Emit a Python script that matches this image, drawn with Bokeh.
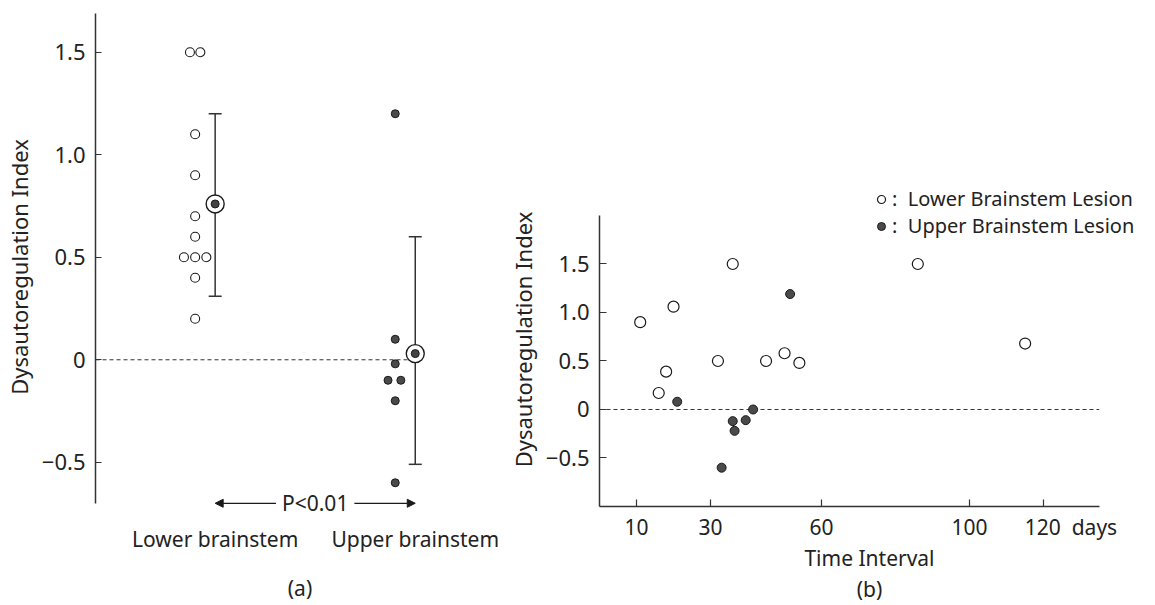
from bokeh.plotting import figure
from bokeh.layouts import row
from bokeh.models import (FixedTicker, LinearAxis, Label, Arrow, NormalHead, Legend,
                          LegendItem, Range1d, ColumnDataSource)
from bokeh.embed import file_html
from bokeh.resources import INLINE

FONT = "Noto Sans"
TXT = "#222222"
INK = "#1a1a1a"
NBSP = "\u00a0"

# ---------------- data : panel (a) ----------------
groups = ["Lower brainstem", "Upper brainstem"]
group_pos = [1, 2]
lower_dri = [1.5, 1.5, 1.1, 0.9, 0.7, 0.6, 0.5, 0.5, 0.5, 0.4, 0.2]
lower_jitter = [-0.026, 0.026, 0, 0, 0, 0, -0.056, 0, 0.056, 0, 0]
upper_dri = [1.2, 0.1, -0.02, -0.1, -0.1, -0.2, -0.6]
upper_jitter = [0, 0, 0, -0.036, 0.028, 0, 0]
group_mean = [0.76, 0.03]
group_err_lo = [0.31, -0.51]
group_err_hi = [1.2, 0.6]
p_text = "P<0.01"
y_ticks = [-0.5, 0, 0.5, 1.0, 1.5]
y_tick_labels = ["\u22120.5", "0", "0.5", "1.0", "1.5"]

# ---------------- data : panel (b) ----------------
lower_days = [11, 16, 18, 20, 32, 36, 45, 50, 54, 86, 115]
lower_dri_b = [0.9, 0.17, 0.39, 1.06, 0.5, 1.5, 0.5, 0.58, 0.48, 1.5, 0.68]
upper_days = [21, 33, 36, 36.5, 39.5, 41.5, 51.5]
upper_dri_b = [0.08, -0.6, -0.12, -0.22, -0.11, 0.0, 1.19]
x_ticks_b = [10, 30, 60, 100, 120]
x_tick_labels_b = ["10", "30", "60", "100", "120"]
x_unit = "days"
legend_labels = ["Lower Brainstem Lesion", "Upper Brainstem Lesion"]

COL_OFFSET = 0.1  # points column sits left of the mean / error bar
FIG_H = 605


def style_fig(p):
    p.outline_line_color = None
    p.background_fill_color = "white"
    p.border_fill_color = "white"
    p.grid.visible = False


def style_axis(ax, size="22px"):
    ax.axis_line_color = "#333333"
    ax.axis_line_width = 1.5
    ax.major_tick_line_color = "#333333"
    ax.major_tick_line_width = 1.2
    ax.minor_tick_line_color = None
    ax.major_label_text_font = FONT
    ax.major_label_text_font_size = size
    ax.major_label_text_color = TXT
    ax.axis_label_text_font = FONT
    ax.axis_label_text_font_size = "22px"
    ax.axis_label_text_font_style = "normal"
    ax.axis_label_text_color = TXT


def label_axis(text, bounds, standoff):
    ax = LinearAxis(ticker=FixedTicker(ticks=[]), bounds=bounds, axis_label=text,
                    axis_label_standoff=standoff)
    ax.axis_line_color = None
    ax.major_tick_line_color = None
    ax.minor_tick_line_color = None
    ax.major_tick_in = 0
    ax.major_tick_out = 0
    ax.major_label_standoff = 0
    ax.major_label_text_font_size = "1px"
    ax.axis_label_text_font = FONT
    ax.axis_label_text_font_size = "21px"
    ax.axis_label_text_font_style = "normal"
    ax.axis_label_text_color = TXT
    return ax


# ================= panel (a) =================
pa = figure(width=504, height=FIG_H, x_range=Range1d(0.402, 2.446), y_range=Range1d(-0.784, 1.689),
            output_backend="svg", toolbar_location=None, frame_align=False,
            min_border_left=87, min_border_right=0, min_border_top=13, min_border_bottom=FIG_H - 520)
style_fig(pa)

ya = pa.yaxis[0]
style_axis(ya)
ya.ticker = FixedTicker(ticks=y_ticks)
ya.major_label_overrides = dict(zip(y_ticks, y_tick_labels))
ya.bounds = (-0.70, 1.69)
ya.major_tick_in = 6
ya.major_tick_out = 0
ya.major_label_standoff = 10
ya.axis_label = "Dysautoregulation Index"
ya.axis_label_standoff = 5

xa = pa.xaxis[0]
style_axis(xa, "21px")
xa.ticker = FixedTicker(ticks=group_pos)
xa.major_label_overrides = dict(zip(group_pos, groups))
xa.axis_line_color = None
xa.major_tick_line_color = None
xa.major_tick_in = 0
xa.major_tick_out = 0
xa.major_label_standoff = 4
xa.bounds = (0.5, 2.5)
xa.axis_label = "(a)"
xa.axis_label_text_font_size = "21px"
xa.axis_label_standoff = 18

# zero reference line
pa.segment(x0=pa.x_range.start, y0=0, x1=group_pos[1], y1=0,
           line_dash="4 3", line_color="#333333", line_width=1)

# error bars
src_m = ColumnDataSource(dict(x=group_pos, mean=group_mean, lo=group_err_lo, hi=group_err_hi))
pa.segment(x0="x", y0="lo", x1="x", y1="hi", source=src_m, line_color="#333333", line_width=1.5)
pa.scatter(x="x", y="lo", marker="dash", size=13, line_color="#333333", line_width=1.5, source=src_m)
pa.scatter(x="x", y="hi", marker="dash", size=13, line_color="#333333", line_width=1.5, source=src_m)
pa.scatter(x="x", y="mean", size=18, fill_color="white", line_color=INK, line_width=1.4, source=src_m)
pa.scatter(x="x", y="mean", size=8, fill_color="#444444", line_color=INK, line_width=1, source=src_m)

# individual values
lower_x = [group_pos[0] - COL_OFFSET + j for j in lower_jitter]
upper_x = [group_pos[1] - COL_OFFSET + j for j in upper_jitter]
pa.scatter(lower_x, lower_dri, size=9, fill_color="white", line_color=INK, line_width=1.1)
pa.scatter(upper_x, upper_dri, size=8, fill_color="#4a4a4a", line_color=INK, line_width=1)

# P<0.01 arrow
y_arrow = ya.bounds[0]
pa.add_layout(Arrow(start=NormalHead(size=8, fill_color=INK, line_color=INK),
                    end=NormalHead(size=8, fill_color=INK, line_color=INK),
                    x_start=group_pos[0], y_start=y_arrow, x_end=group_pos[1], y_end=y_arrow,
                    line_color=INK, line_width=1.2))
pa.add_layout(Label(x=(group_pos[0] + group_pos[1]) / 2, y=y_arrow, text=p_text,
                    text_align="center", text_baseline="middle", text_font=FONT,
                    text_font_size="21px", text_color=TXT, background_fill_color="white",
                    padding=6))

# ================= panel (b) =================
pb = figure(width=635, height=FIG_H, x_range=Range1d(0, 145.9), y_range=Range1d(-1.0, 2.443),
            output_backend="svg", toolbar_location=None, frame_align=False,
            min_border_left=88, min_border_right=0, min_border_top=172, min_border_bottom=FIG_H - 506)
style_fig(pb)

yb = pb.yaxis[0]
style_axis(yb)
yb.ticker = FixedTicker(ticks=y_ticks)
yb.major_label_overrides = dict(zip(y_ticks, y_tick_labels))
yb.bounds = (-1.0, 2.0)
yb.major_tick_in = 7
yb.major_tick_out = 0
yb.major_label_standoff = 10
yb.axis_label = "Dysautoregulation Index"
yb.axis_label_standoff = 5

xb = pb.xaxis[0]
style_axis(xb, "21px")
xb.ticker = FixedTicker(ticks=x_ticks_b)
# last tick carries the unit; left padding keeps the number centred on its tick
tick_text = list(x_tick_labels_b)
tick_text[-1] = NBSP * 10 + tick_text[-1] + NBSP * 2 + x_unit
xb.major_label_overrides = dict(zip(x_ticks_b, tick_text))
xb.bounds = (0, 135)
xb.major_tick_in = 7
xb.major_tick_out = 0
xb.major_label_standoff = 6

pb.add_layout(label_axis("Time Interval", (70, 130), 0), "below")
pb.add_layout(label_axis("(b)", (0, 129), 0), "below")

pb.segment(x0=0, y0=0, x1=xb.bounds[1], y1=0, line_dash="4 3", line_color="#333333", line_width=1)

r_lo = pb.scatter(lower_days, lower_dri_b, size=11, fill_color="white", line_color=INK, line_width=1.2)
r_up = pb.scatter(upper_days, upper_dri_b, size=9, fill_color="#4a4a4a", line_color=INK, line_width=1)

legend = Legend(items=[LegendItem(label=":  " + legend_labels[0], renderers=[r_lo]),
                       LegendItem(label=":  " + legend_labels[1], renderers=[r_up])],
                location=(272, 267), glyph_width=20, glyph_height=20, label_height=20,
                label_standoff=1, spacing=0, padding=0, margin=0,
                border_line_color=None, background_fill_alpha=0,
                label_text_font=FONT, label_text_font_size="20px", label_text_color=TXT)
pb.add_layout(legend)

layout = row(pa, pb)
open("out.html", "w").write(file_html(layout, INLINE))
